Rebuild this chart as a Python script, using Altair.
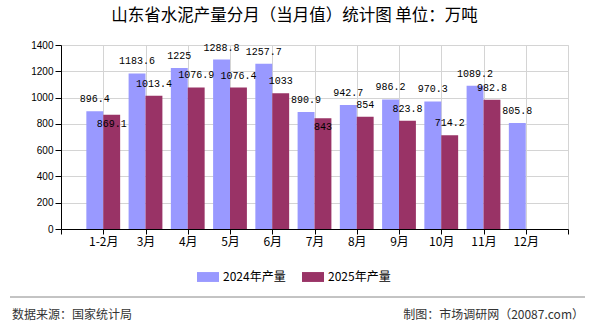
import json
import altair as alt
import pandas as pd

# Monthly cement output of Shandong, 10k tonnes
months = ["1-2月", "3月", "4月", "5月", "6月", "7月", "8月", "9月", "10月", "11月", "12月"]
output_2024 = [896.4, 1183.6, 1225, 1288.8, 1257.7, 890.9, 942.7, 986.2, 970.3, 1089.2, 805.8]
output_2025 = [869.1, 1013.4, 1076.9, 1076.4, 1033, 843, 854, 823.8, 714.2, 982.8]

series_names = ["2024年产量", "2025年产量"]
series_colors = ["#9999FF", "#993366"]
y_ticks = [0, 200, 400, 600, 800, 1000, 1200, 1400]

title_text = "山东省水泥产量分月（当月值）统计图 单位：万吨"
source_text = "数据来源：国家统计局"
credit_text = "制图：市场调研网（20087.com）"

CJK = "Noto Sans CJK SC"
HALF = 0.4  # width of one bar, in category units

rows = []
for i, m in enumerate(months):
    pos = i + 1
    v24 = output_2024[i]
    v25 = output_2025[i] if i < len(output_2025) else None
    rows.append({"month": m, "series": series_names[0], "value": v24,
                 "x0": pos - HALF, "x1": pos, "xc": pos - HALF / 2, "crowded": False})
    if v25 is not None:
        # a 2025 label that would collide with the 2024 label goes below the bar top
        crowded = 0 <= v24 - v25 < 60
        rows.append({"month": m, "series": series_names[1], "value": v25,
                     "x0": pos, "x1": pos + HALF, "xc": pos + HALF / 2, "crowded": crowded})
df = pd.DataFrame(rows)

label_expr = f"{json.dumps(months)}[datum.value - 1] || ''"

x_scale = alt.Scale(domain=[0, 12], nice=False, zero=False)
x_axis = alt.Axis(
    values=list(range(0, 13)), labelExpr=label_expr, title=None,
    grid=True, gridColor="#d4d4d4", domainColor="#000000", tickColor="#000000",
    tickSize=5, labelPadding=2, labelFont=CJK, labelFontSize=12,
    labelColor="#000000", labelFlush=False, labelOverlap=False,
)
y_scale = alt.Scale(domain=[0, 1400], nice=False)
y_axis = alt.Axis(
    values=y_ticks, format="d", title=None, grid=True, gridColor="#d4d4d4",
    domainColor="#000000", tickColor="#000000", tickSize=6, labelPadding=2,
    labelFont="Liberation Sans", labelFontSize=10, labelColor="#000000",
)


def xq(field):
    return alt.X(f"{field}:Q", scale=x_scale, axis=x_axis)


def yq():
    return alt.Y("value:Q", scale=y_scale, axis=y_axis)


base = alt.Chart(df)

bars = base.mark_bar().encode(
    x=xq("x0"),
    x2="x1:Q",
    y=yq(),
    y2=alt.datum(0),
    color=alt.Color(
        "series:N",
        scale=alt.Scale(domain=series_names, range=series_colors),
        legend=alt.Legend(
            title=None, orient="none", direction="horizontal",
            legendX=136, legendY=221, padding=0,
            symbolType="M-1,-0.45H1V0.45H-1Z", symbolSize=484,
            symbolStrokeWidth=0, symbolOpacity=1,
            labelFont=CJK, labelFontSize=12, labelColor="#000000",
            labelOffset=4, columnPadding=16,
        ),
    ),
)

label_style = dict(font="Liberation Mono", fontSize=10, color="#000000",
                   align="center", baseline="middle")
labels_above = base.transform_filter("!datum.crowded").mark_text(dy=-12, **label_style).encode(
    x=xq("xc"), y=yq(), text="value:Q"
)
labels_below = base.transform_filter("datum.crowded").mark_text(dy=9, **label_style).encode(
    x=xq("xc"), y=yq(), text="value:Q"
)

# footer: separator line plus source and credit notes
footer_df = pd.DataFrame({"source": [source_text], "credit": [credit_text]})
footer = alt.Chart(footer_df)
rule = footer.mark_rule(color="#888888", strokeWidth=1).encode(
    x=alt.value(-51), x2=alt.value(524), y=alt.value(252)
)
source = footer.mark_text(font=CJK, fontSize=12, color="#333333", align="left",
                          baseline="middle").encode(
    x=alt.value(-49), y=alt.value(270), text="source:N"
)
credit = footer.mark_text(font=CJK, fontSize=12, color="#333333", align="right",
                          baseline="middle").encode(
    x=alt.value(523), y=alt.value(270), text="credit:N"
)

chart = (
    alt.layer(bars, labels_above, labels_below, rule, source, credit)
    .properties(
        width=507, height=184,
        title=alt.TitleParams(
            text=title_text, font=CJK, fontSize=16.5, fontWeight="normal",
            color="#000000", anchor="middle", dx=-20, offset=0, baseline="bottom",
        ),
        autosize=alt.AutoSizeParams(type="none"),
        padding={"left": 61, "top": 45, "right": 22, "bottom": 101},
    )
    .configure_view(stroke=None)
    .configure(background="#ffffff")
)

chart.save("out.html", embed_options={"renderer": "svg", "actions": False})
